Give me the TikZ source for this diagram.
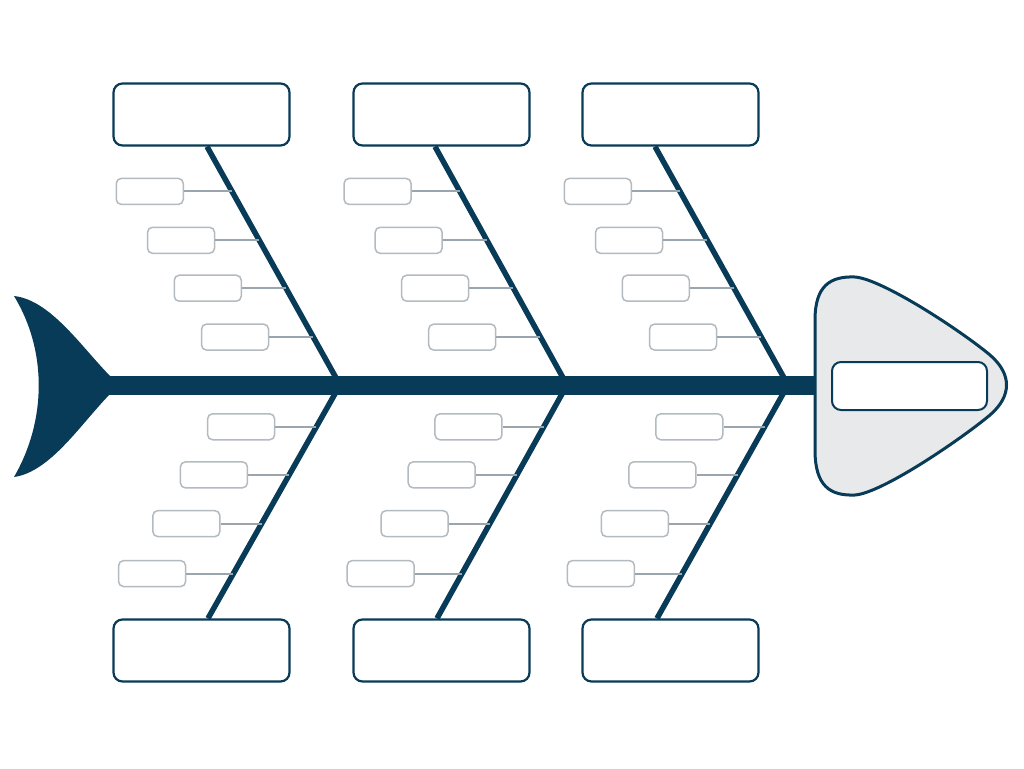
\documentclass[tikz,border=0pt]{standalone}
\usetikzlibrary{positioning}
\definecolor{bone}{HTML}{073B57}
\definecolor{twigc}{HTML}{9AA5AE}
\definecolor{boxc}{HTML}{B3BAC0}
\definecolor{headfill}{HTML}{E8E9EB}

\begin{document}
\begin{tikzpicture}[x=1pt,y=-1pt,node distance=44pt,
    cat/.style={draw=bone,line width=2.2pt,rounded corners=9pt,fill=white,minimum width=176pt,minimum height=62pt},
    cause/.style={draw=boxc,line width=1.5pt,rounded corners=5pt,fill=white,minimum width=67pt,minimum height=26pt},
    bonel/.style={draw=bone,line width=5.5pt},
    twig/.style={draw=twigc,line width=2pt}]
  \useasboundingbox (0,0) rectangle (1024,768);

  % category boxes
  \node[cat] (t_1) at (201.5,114.5) {};
  \node[cat] (t_2) at (441.5,114.5) {};
  \node[cat] (t_3) at (670.5,114.5) {};
  \node[cat] (b_1) at (201.5,650.5) {};
  \node[cat] (b_2) at (441.5,650.5) {};
  \node[cat] (b_3) at (670.5,650.5) {};

  \coordinate (j_1) at (340,385);
  \coordinate (j_2) at (567,385);
  \coordinate (j_3) at (788,385);
  \coordinate (tail) at (105,385);
  \coordinate (neck) at (816,385);

  % bones
  \draw[bonel] (j_1) -- ([xshift=5.5pt]t_1.south) coordinate[pos=.201] (p_14) coordinate[pos=.406] (p_13) coordinate[pos=.607] (p_12) coordinate[pos=.812] (p_11);
  \draw[bonel] (j_2) -- ([xshift=-6.5pt]t_2.south) coordinate[pos=.201] (p_24) coordinate[pos=.406] (p_23) coordinate[pos=.607] (p_22) coordinate[pos=.812] (p_21);
  \draw[bonel] (j_3) -- ([xshift=-15.5pt]t_3.south) coordinate[pos=.201] (p_34) coordinate[pos=.406] (p_33) coordinate[pos=.607] (p_32) coordinate[pos=.812] (p_31);
  \draw[bonel] (j_1) -- ([xshift=6.5pt]b_1.north) coordinate[pos=.179] (q_11) coordinate[pos=.385] (q_12) coordinate[pos=.594] (q_13) coordinate[pos=.808] (q_14);
  \draw[bonel] (j_2) -- ([xshift=-4.5pt]b_2.north) coordinate[pos=.179] (q_21) coordinate[pos=.385] (q_22) coordinate[pos=.594] (q_23) coordinate[pos=.808] (q_24);
  \draw[bonel] (j_3) -- ([xshift=-13.5pt]b_3.north) coordinate[pos=.179] (q_31) coordinate[pos=.385] (q_32) coordinate[pos=.594] (q_33) coordinate[pos=.808] (q_34);

  % causes, upper half
  \node[cause,left=48pt of p_11] (c_11) {};
  \node[cause,left=of p_12] (c_12) {};
  \node[cause,left=of p_13] (c_13) {};
  \node[cause,left=of p_14] (c_14) {};
  \node[cause,left=48pt of p_21] (c_21) {};
  \node[cause,left=of p_22] (c_22) {};
  \node[cause,left=of p_23] (c_23) {};
  \node[cause,left=of p_24] (c_24) {};
  \node[cause,left=48pt of p_31] (c_31) {};
  \node[cause,left=of p_32] (c_32) {};
  \node[cause,left=of p_33] (c_33) {};
  \node[cause,left=of p_34] (c_34) {};
  % causes, lower half
  \node[cause,left=41pt of q_11] (d_11) {};
  \node[cause,left=41pt of q_12] (d_12) {};
  \node[cause,left=41pt of q_13] (d_13) {};
  \node[cause,left=47pt of q_14] (d_14) {};
  \node[cause,left=41pt of q_21] (d_21) {};
  \node[cause,left=41pt of q_22] (d_22) {};
  \node[cause,left=41pt of q_23] (d_23) {};
  \node[cause,left=47pt of q_24] (d_24) {};
  \node[cause,left=41pt of q_31] (d_31) {};
  \node[cause,left=41pt of q_32] (d_32) {};
  \node[cause,left=41pt of q_33] (d_33) {};
  \node[cause,left=47pt of q_34] (d_34) {};

  \draw[twig] (c_11) -- (p_11) (c_12) -- (p_12) (c_13) -- (p_13) (c_14) -- (p_14)
              (c_21) -- (p_21) (c_22) -- (p_22) (c_23) -- (p_23) (c_24) -- (p_24)
              (c_31) -- (p_31) (c_32) -- (p_32) (c_33) -- (p_33) (c_34) -- (p_34);
  \draw[twig] (d_11) -- (q_11) (d_12) -- (q_12) (d_13) -- (q_13) (d_14) -- (q_14)
              (d_21) -- (q_21) (d_22) -- (q_22) (d_23) -- (q_23) (d_24) -- (q_24)
              (d_31) -- (q_31) (d_32) -- (q_32) (d_33) -- (q_33) (d_34) -- (q_34);

  % spine and tail
  \draw[bone,line width=19pt] (tail) -- (neck);
  \fill[bone] (14,296) .. controls (50,300) and (80,345) .. (110,376) -- (110,394)
    .. controls (80,425) and (50,472) .. (14,477) .. controls (47,420) and (47,350) .. (14,296) -- cycle;

  % head
  \draw[bone,fill=headfill,line width=3pt] (815,385) -- (815,320) .. controls (815,286) and (830,276) .. (855,277)
    .. controls (882,279) and (960,330) .. (990,355) .. controls (1012,374) and (1012,396) .. (990,415)
    .. controls (960,440) and (882,493) .. (855,495) .. controls (830,496) and (815,486) .. (815,450) -- cycle;
  \node[cat,line width=2pt,minimum width=155pt,minimum height=48pt] (effect) at (909.5,386) {};
\end{tikzpicture}
\end{document}
